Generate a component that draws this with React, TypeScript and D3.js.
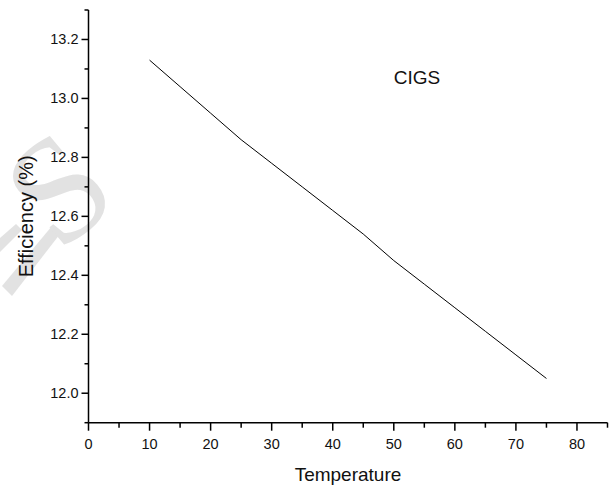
import React, { useEffect, useRef } from 'react'
import * as d3 from 'd3'

const temperature = [10, 15, 20, 25, 30, 35, 40, 45, 50, 55, 60, 65, 70, 75]
const efficiency = [13.13, 13.04, 12.95, 12.86, 12.78, 12.70, 12.62, 12.54, 12.45, 12.37, 12.29, 12.21, 12.13, 12.05]
const xTicks = [0, 10, 20, 30, 40, 50, 60, 70, 80]
const yTicks = [12.0, 12.2, 12.4, 12.6, 12.8, 13.0, 13.2]
const seriesLabel = 'CIGS'

const width = 611
const height = 488
const font = '"Liberation Sans", Arial, sans-serif'

export default function App() {
	const svgRef = useRef<SVGSVGElement>(null)

	useEffect(() => {
		const root = d3.select(svgRef.current)
		root.selectAll('*').remove()

		const x = d3.scaleLinear().domain([0, 85]).range([88.5, 607.5])
		const y = d3.scaleLinear().domain([11.9, 13.3]).range([422.7, 10])

		// faint watermark behind everything
		const wm = root.append('g').attr('fill', '#e2e2e2')
		wm.append('path')
			.attr('d', 'M2,286 L12,296 L60,234 L52,226 Z')
		wm.append('path')
			.attr('d', 'M0,238 L0,252 L22,230 L16,224 Z')
		wm.append('text')
			.attr('transform', 'translate(58,188) rotate(-40)')
			.attr('text-anchor', 'middle')
			.attr('dominant-baseline', 'central')
			.attr('font-family', '"Liberation Serif", serif')
			.attr('font-size', 150)
			.text('S')

		// minor ticks
		const xMinor = d3.range(5, 85, 10)
		const yMinor = d3.range(11.9, 13.31, 0.2).map(v => +v.toFixed(1))

		const g = root.append('g').attr('stroke', 'black').attr('stroke-width', 1.5)
		g.append('line').attr('x1', x(0)).attr('x2', x(85)).attr('y1', y(11.9)).attr('y2', y(11.9))
		g.append('line').attr('x1', x(0)).attr('x2', x(0)).attr('y1', y(11.9)).attr('y2', y(13.3))

		g.selectAll('line.xmaj').data(xTicks.concat([85])).enter().append('line')
			.attr('x1', d => x(d)).attr('x2', d => x(d))
			.attr('y1', y(11.9)).attr('y2', d => y(11.9) + (d % 10 === 0 ? 8 : 5))
		g.selectAll('line.xmin').data(xMinor).enter().append('line')
			.attr('x1', d => x(d)).attr('x2', d => x(d))
			.attr('y1', y(11.9)).attr('y2', y(11.9) + 5)
		g.selectAll('line.ymaj').data(yTicks).enter().append('line')
			.attr('x1', x(0) - 7).attr('x2', x(0))
			.attr('y1', d => y(d)).attr('y2', d => y(d))
		g.selectAll('line.ymin').data(yMinor).enter().append('line')
			.attr('x1', x(0) - 4).attr('x2', x(0))
			.attr('y1', d => y(d)).attr('y2', d => y(d))

		const labels = root.append('g').attr('font-family', font).attr('font-size', 14.5).attr('fill', '#111')
		labels.selectAll('text.x').data(xTicks).enter().append('text')
			.attr('x', d => x(d)).attr('y', y(11.9) + 26)
			.attr('text-anchor', 'middle')
			.text(d => d)
		labels.selectAll('text.y').data(yTicks).enter().append('text')
			.attr('x', x(0) - 10).attr('y', d => y(d) + 5)
			.attr('text-anchor', 'end')
			.text(d => d.toFixed(1))

		const line = d3.line<number>()
			.x((d, i) => x(temperature[i]))
			.y(d => y(d))
		root.append('path')
			.attr('d', line(efficiency))
			.attr('fill', 'none')
			.attr('stroke', 'black')
			.attr('stroke-width', 1)

		root.append('text')
			.attr('x', x(50)).attr('y', y(13.05))
			.attr('font-family', font).attr('font-size', 19).attr('fill', '#111')
			.text(seriesLabel)

		root.append('text')
			.attr('x', (x(0) + x(85)) / 2).attr('y', 481)
			.attr('text-anchor', 'middle')
			.attr('font-family', font).attr('font-size', 19).attr('fill', '#111')
			.text('Temperature')

		root.append('text')
			.attr('transform', `translate(33,${(y(11.9) + y(13.3)) / 2}) rotate(-90)`)
			.attr('text-anchor', 'middle')
			.attr('font-family', font).attr('font-size', 20).attr('fill', '#111')
			.text('Efficiency (%)')
	}, [])

	return (
		<svg ref={svgRef} width={width} height={height}
			style={{ position: 'absolute', left: 0, top: 0, background: 'white' }} />
	)
}
